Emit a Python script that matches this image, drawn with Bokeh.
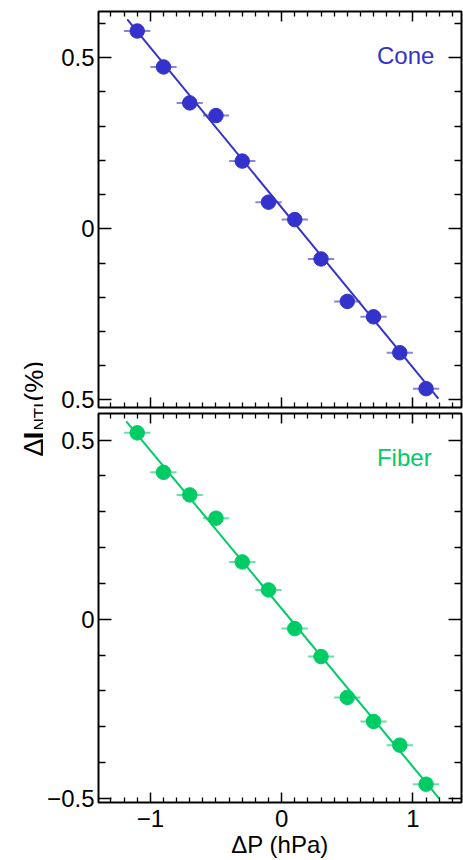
from bokeh.plotting import figure
from bokeh.models import Range1d, LinearAxis, FixedTicker, Label
from bokeh.layouts import row, column
from bokeh.embed import file_html
from bokeh.resources import INLINE
import math

# ---------------- data ----------------
dp = [-1.1, -0.9, -0.7, -0.5, -0.3, -0.1, 0.1, 0.3, 0.5, 0.7, 0.9, 1.1]
dp_err = [0.1, 0.1, 0.1, 0.1, 0.1, 0.1, 0.1, 0.1, 0.1, 0.1, 0.1, 0.1]
cone = [0.578, 0.473, 0.368, 0.331, 0.198, 0.078, 0.027, -0.088, -0.212, -0.257, -0.362, -0.467]
fiber = [0.520, 0.410, 0.347, 0.282, 0.160, 0.082, -0.026, -0.104, -0.218, -0.285, -0.351, -0.460]
cone_fit_x = [-1.176, 1.194]
cone_fit_y = [0.612, -0.496]
fiber_fit_x = [-1.184, 1.201]
fiber_fit_y = [0.552, -0.500]

x_major = [-1, 0, 1]
x_major_labels = ["\u22121", "0", "1"]
x_minor = [-1.3, -1.2, -1.1, -0.9, -0.8, -0.7, -0.6, -0.5, -0.4, -0.3, -0.2, -0.1,
           0.1, 0.2, 0.3, 0.4, 0.5, 0.6, 0.7, 0.8, 0.9, 1.1, 1.2, 1.3]
y_major = [-0.5, 0, 0.5]
top_y_labels = ["0.5", "0", "0.5"]
bottom_y_labels = ["\u22120.5", "0", "0.5"]
top_y_minor = [-0.4, -0.3, -0.2, -0.1, 0.1, 0.2, 0.3, 0.4, 0.6]
bottom_y_minor = [-0.4, -0.3, -0.2, -0.1, 0.1, 0.2, 0.3, 0.4]

BLUE = "#3333CC"
GREEN = "#00CC66"
FONT = "Liberation Sans"

X_RANGE = (-1.395, 1.37)
TOP_Y = (-0.522, 0.635)
BOT_Y = (-0.511, 0.574)


def style_axis(ax, ticks, minor, labels, tick_in, minor_in):
    ax.ticker = FixedTicker(ticks=ticks, minor_ticks=minor)
    ax.axis_line_color = None
    ax.major_tick_in = tick_in
    ax.major_tick_out = 0
    ax.minor_tick_in = minor_in
    ax.minor_tick_out = 0
    ax.major_tick_line_color = "black"
    ax.major_tick_line_width = 1.5
    ax.minor_tick_line_color = "black"
    ax.minor_tick_line_width = 1.3
    if labels is None:
        ax.major_label_overrides = {t: "" for t in ticks}
        ax.major_label_text_font_size = "1px"
        ax.major_label_standoff = 0
    else:
        ax.major_label_overrides = dict(zip(ticks, labels))
        ax.major_label_text_font = FONT
        ax.major_label_text_font_size = "24px"
        ax.major_label_text_color = "black"


def make_panel(height, yr, ys, color, fit_x, fit_y, name, name_y, y_labels, y_minor,
               show_x_labels, border_top, border_bottom):
    p = figure(width=420, height=height, output_backend="svg", toolbar_location=None,
               x_range=Range1d(*X_RANGE), y_range=Range1d(*yr),
               min_border_left=55, min_border_right=2,
               min_border_top=border_top, min_border_bottom=border_bottom)
    p.grid.visible = False
    p.outline_line_color = "black"
    p.outline_line_width = 2
    p.background_fill_color = "white"
    p.border_fill_color = "white"

    style_axis(p.xaxis[0], x_major, x_minor, x_major_labels if show_x_labels else None, 10, 5)
    if show_x_labels:
        p.xaxis[0].major_label_standoff = 7
        p.xaxis[0].axis_label = "\u0394P (hPa)"
        p.xaxis[0].axis_label_text_font = FONT
        p.xaxis[0].axis_label_text_font_size = "24px"
        p.xaxis[0].axis_label_text_font_style = "normal"
        p.xaxis[0].axis_label_text_color = "black"
        p.xaxis[0].axis_label_standoff = 1
    style_axis(p.yaxis[0], y_major, y_minor, y_labels, 13, 7)
    p.yaxis[0].major_label_standoff = 4

    top_ax = LinearAxis()
    style_axis(top_ax, x_major, x_minor, None, 10, 5)
    p.add_layout(top_ax, "above")
    right_ax = LinearAxis()
    style_axis(right_ax, y_major, y_minor, None, 13, 7)
    p.add_layout(right_ax, "right")

    p.line(fit_x, fit_y, line_color=color, line_width=2)
    x0 = [x - e for x, e in zip(dp, dp_err)]
    x1 = [x + e for x, e in zip(dp, dp_err)]
    p.segment(x0=x0, y0=ys, x1=x1, y1=ys, line_color=color, line_alpha=0.6, line_width=2)
    p.scatter(dp, ys, size=14.5, fill_color=color, line_color=color)

    p.add_layout(Label(x=0.726, y=name_y, text=name, text_color=color,
                       text_font=FONT, text_font_size="24px", text_baseline="alphabetic"))
    return p


top = make_panel(409, TOP_Y, cone, BLUE, cone_fit_x, cone_fit_y, "Cone", 0.507,
                 top_y_labels, top_y_minor, False, 11, 2)
bottom = make_panel(451, BOT_Y, fiber, GREEN, fiber_fit_x, fiber_fit_y, "Fiber", 0.451,
                    bottom_y_labels, bottom_y_minor, True, 4, 58)

# y-axis title in its own narrow strip (pixel coordinates, y measured from bottom)
LW, LH = 43, 860
lab = figure(width=LW, height=LH, output_backend="svg", toolbar_location=None,
             x_range=Range1d(0, LW), y_range=Range1d(0, LH),
             min_border=0, x_axis_location=None, y_axis_location=None)
lab.grid.visible = False
lab.outline_line_color = None
ang = math.pi / 2
for txt, xx, yy, size, style in [("\u0394", 33, 404, "27px", "normal"),
                                  ("I", 33, 421, "29px", "bold"),
                                  ("NTI", 40, 430, "17px", "normal"),
                                  ("(%)", 33, 459, "26px", "normal")]:
    lab.add_layout(Label(x=xx, y=yy, text=txt, angle=ang, text_font=FONT,
                         text_font_size=size, text_font_style=style, text_color="black",
                         text_align="left", text_baseline="alphabetic"))

layout = row(lab, column(top, bottom, spacing=0), spacing=0)
open("out.html", "w").write(file_html(layout, INLINE))
